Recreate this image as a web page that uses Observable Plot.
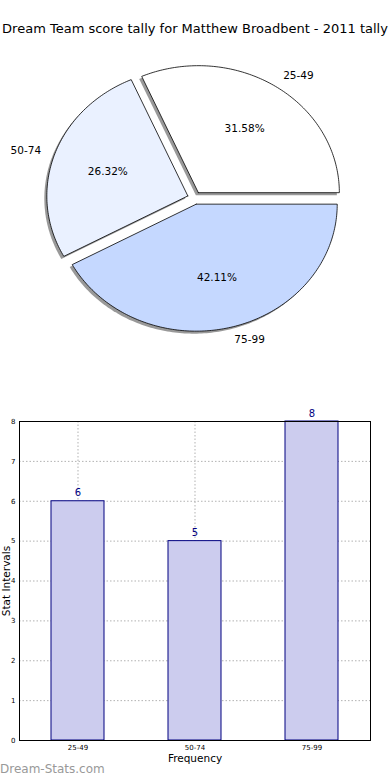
<!DOCTYPE html>
<html>
<head>
<meta charset="utf-8">
<script src="https://cdn.jsdelivr.net/npm/d3@7"></script>
<script src="https://cdn.jsdelivr.net/npm/@observablehq/plot@0.6"></script>
<style>
  body { margin: 0; background: #fff; font-family: "DejaVu Sans", sans-serif; }
  #wrap { position: relative; width: 390px; height: 780px; overflow: hidden; }
  #title { position: absolute; left: 0; width: 390px; top: 21px; text-align: center; font-size: 13px; color: #000; white-space: nowrap; }
  #pie { position: absolute; left: 0; top: 50px; }
  #bar { position: absolute; left: 0; top: 400px; }
  #mark { position: absolute; left: 0; top: 762px; font-size: 12px; color: #999; white-space: nowrap; }
</style>
</head>
<body>
<div id="wrap">
  <div id="title">Dream Team score tally for Matthew Broadbent - 2011 tally</div>
  <div id="pie"></div>
  <div id="bar"></div>
  <div id="mark">Dream-Stats.com</div>
</div>
<script>
const categories = ["25-49", "50-74", "75-99"];
const counts = [6, 5, 8];
const sliceColors = ["#ffffff", "#eaf1ff", "#c5d8ff"];
const yTicks = [0, 1, 2, 3, 4, 5, 6, 7, 8];
const explode = 0.05;

const total = d3.sum(counts);
const rad = Math.PI / 180;
let start = 0;
const slices = categories.map((c, i) => {
  const span = counts[i] / total * 360;
  const a1 = start, a2 = start + span;
  start = a2;
  const mid = (a1 + a2) / 2;
  const ox = explode * Math.cos(mid * rad), oy = explode * Math.sin(mid * rad);
  const pts = [{x: ox, y: oy}];
  const n = Math.max(2, Math.ceil(span));
  for (let k = 0; k <= n; k++) {
    const a = (a1 + (a2 - a1) * k / n) * rad;
    pts.push({x: ox + Math.cos(a), y: oy + Math.sin(a)});
  }
  pts.push({x: ox, y: oy});
  return {
    cat: c, color: sliceColors[i], pts,
    lx: ox + 1.1 * Math.cos(mid * rad), ly: oy + 1.1 * Math.sin(mid * rad),
    right: Math.cos(mid * rad) >= 0,
    px: ox + 0.6 * Math.cos(mid * rad), py: oy + 0.6 * Math.sin(mid * rad),
    pct: (counts[i] / total * 100).toFixed(2) + "%"
  };
});

const W = 390, PH = 310, cxp = 194, cyp = 147.5, rxp = 141, ryp = 127;
const pieMarks = [];
slices.forEach(s => {
  pieMarks.push(Plot.line(s.pts, {x: "x", y: "y", fill: "#777", fillOpacity: 0.75, stroke: "none", dx: -2.5, dy: 2.5}));
});
slices.forEach(s => {
  pieMarks.push(Plot.line(s.pts, {x: "x", y: "y", fill: s.color, stroke: "#000", strokeWidth: 0.8, strokeLinejoin: "miter"}));
});
pieMarks.push(Plot.text(slices.filter(d => d.right), {x: "lx", y: "ly", text: "cat", textAnchor: "start", fontSize: 10.5, fill: "#000"}));
pieMarks.push(Plot.text(slices.filter(d => !d.right), {x: "lx", y: "ly", text: "cat", textAnchor: "end", fontSize: 10.5, fill: "#000"}));
pieMarks.push(Plot.text(slices, {x: "px", y: "py", text: "pct", fontSize: 10.5, fill: "#000"}));

const pie = Plot.plot({
  width: W, height: PH, margin: 0,
  style: {fontFamily: "DejaVu Sans", background: "transparent", overflow: "visible"},
  x: {domain: [-cxp / rxp, (W - cxp) / rxp], range: [0, W], axis: null},
  y: {domain: [(cyp - PH) / ryp, cyp / ryp], range: [PH, 0], axis: null},
  marks: pieMarks
});
document.getElementById("pie").appendChild(pie);

const barData = categories.map((c, i) => ({cat: c, count: counts[i]}));
const bar = Plot.plot({
  width: W, height: 380,
  marginTop: 21, marginBottom: 40, marginLeft: 19, marginRight: 20,
  style: {fontFamily: "DejaVu Sans", background: "transparent", overflow: "visible"},
  x: {domain: categories, paddingInner: 0.55, paddingOuter: 0.275, label: null},
  y: {domain: [0, 8], ticks: yTicks, label: null},
  marks: [
    Plot.gridX({stroke: "#aaa", strokeOpacity: 0.9, strokeDasharray: "1.5,2"}),
    Plot.gridY(yTicks, {stroke: "#aaa", strokeOpacity: 0.9, strokeDasharray: "1.5,2"}),
    Plot.barY(barData, {x: "cat", y: "count", fill: "#ccccee", stroke: "#000080", strokeWidth: 1, inset: 0}),
    Plot.text(barData, {x: "cat", y: "count", text: d => String(d.count), dy: -8, fill: "#000080", fontSize: 10}),
    Plot.frame({stroke: "#000", strokeWidth: 1}),
    Plot.axisX({tickSize: 0, tickPadding: 5, fontSize: 7, label: null}),
    Plot.axisY(yTicks, {tickSize: 0, tickPadding: 4, fontSize: 7, label: null}),
    Plot.text(["Stat Intervals"], {frameAnchor: "left", textAnchor: "middle", rotate: -90, dx: -13, fontSize: 10.5, fill: "#000"}),
    Plot.text(["Frequency"], {frameAnchor: "bottom", dy: 21, fontSize: 10.5, fill: "#000"})
  ]
});
document.getElementById("bar").appendChild(bar);
</script>
</body>
</html>
